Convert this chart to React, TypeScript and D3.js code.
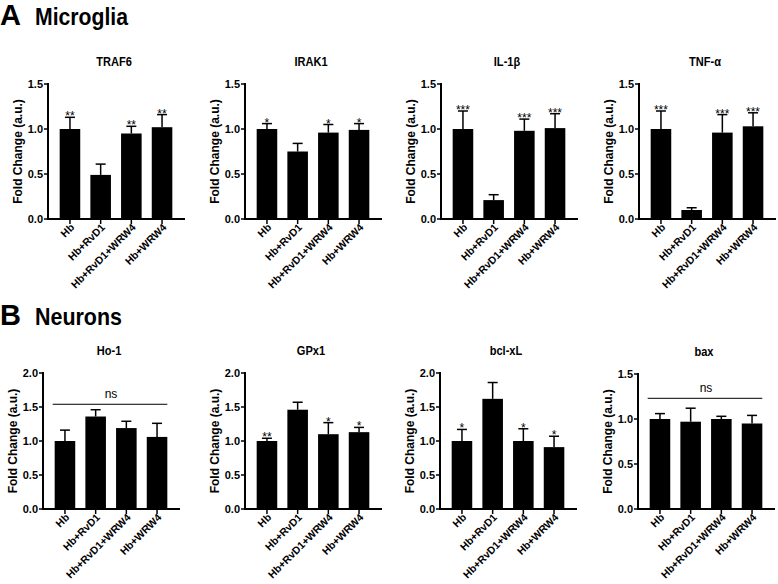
import React from "react";
import * as d3 from "d3";

// ---- Data ----
const groups = ["Hb", "Hb+RvD1", "Hb+RvD1+WRW4", "Hb+WRW4"];

// Panel A: Microglia
const traf6Mean = [1.0, 0.49, 0.95, 1.02];
const traf6Err = [0.13, 0.12, 0.08, 0.14];
const traf6Sig = ["**", "", "**", "**"];

const irak1Mean = [1.0, 0.75, 0.96, 0.99];
const irak1Err = [0.06, 0.09, 0.09, 0.07];
const irak1Sig = ["*", "", "*", "*"];

const il1bMean = [1.0, 0.21, 0.98, 1.01];
const il1bErr = [0.2, 0.06, 0.13, 0.16];
const il1bSig = ["***", "", "***", "***"];

const tnfaMean = [1.0, 0.1, 0.96, 1.03];
const tnfaErr = [0.2, 0.025, 0.2, 0.15];
const tnfaSig = ["***", "", "***", "***"];

// Panel B: Neurons
const ho1Mean = [1.0, 1.36, 1.19, 1.06];
const ho1Err = [0.16, 0.1, 0.1, 0.2];
const ho1Sig = ["", "", "", ""];
const ho1Ns = 1.54;

const gpx1Mean = [1.0, 1.46, 1.1, 1.13];
const gpx1Err = [0.04, 0.11, 0.17, 0.07];
const gpx1Sig = ["**", "", "*", "*"];

const bclxlMean = [1.0, 1.62, 1.0, 0.91];
const bclxlErr = [0.17, 0.24, 0.18, 0.16];
const bclxlSig = ["*", "", "*", "*"];

const baxMean = [1.0, 0.97, 1.0, 0.95];
const baxErr = [0.06, 0.15, 0.03, 0.09];
const baxSig = ["", "", "", ""];
const baxNs = 1.23;

const ticks15 = [0, 0.5, 1.0, 1.5];
const ticks20 = [0, 0.5, 1.0, 1.5, 2.0];

const panelA = [
  { title: "TRAF6", mean: traf6Mean, err: traf6Err, sig: traf6Sig, ticks: ticks15, ns: null },
  { title: "IRAK1", mean: irak1Mean, err: irak1Err, sig: irak1Sig, ticks: ticks15, ns: null },
  { title: "IL-1β", mean: il1bMean, err: il1bErr, sig: il1bSig, ticks: ticks15, ns: null },
  { title: "TNF-α", mean: tnfaMean, err: tnfaErr, sig: tnfaSig, ticks: ticks15, ns: null },
];
const panelB = [
  { title: "Ho-1", mean: ho1Mean, err: ho1Err, sig: ho1Sig, ticks: ticks20, ns: ho1Ns },
  { title: "GPx1", mean: gpx1Mean, err: gpx1Err, sig: gpx1Sig, ticks: ticks20, ns: null },
  { title: "bcl-xL", mean: bclxlMean, err: bclxlErr, sig: bclxlSig, ticks: ticks20, ns: null },
  { title: "bax", mean: baxMean, err: baxErr, sig: baxSig, ticks: ticks15, ns: baxNs },
];

const FONT = "'Liberation Sans', Arial, Helvetica, sans-serif";

type ChartDef = {
  title: string;
  mean: number[];
  err: number[];
  sig: string[];
  ticks: number[];
  ns: number | null;
};

function BarChart({ def, ax, top, bottom }: { def: ChartDef; ax: number; top: number; bottom: number }) {
  const yMax = def.ticks[def.ticks.length - 1];
  const y = d3.scaleLinear().domain([0, yMax]).range([bottom, top]);
  const x = d3
    .scaleBand<string>()
    .domain(groups)
    .range([ax + 4, ax + 132])
    .paddingInner(0.33)
    .paddingOuter(0.25);
  const bw = x.bandwidth();
  const fmt = d3.format(".1f");
  const titleX = ax + 66;
  return (
    <g>
      <text
        x={0}
        y={0}
        transform={`translate(${titleX},${top - 18}) scale(0.82,1)`}
        textAnchor="middle"
        fontFamily={FONT}
        fontWeight="bold"
        fontSize={13.5}
      >
        {def.title}
      </text>
      {/* y label */}
      <text
        transform={`translate(${ax - 30},${(top + bottom) / 2}) rotate(-90)`}
        textAnchor="middle"
        fontFamily={FONT}
        fontWeight="bold"
        fontSize={12}
        dy="0.35em"
      >
        Fold Change (a.u.)
      </text>
      {/* bars */}
      {groups.map((g, i) => {
        const cx = (x(g) as number) + bw / 2;
        const yb = y(def.mean[i]);
        const ye = y(def.mean[i] + def.err[i]);
        return (
          <g key={g}>
            <rect x={x(g)} y={yb} width={bw} height={bottom - yb} fill="#000" />
            <line x1={cx} x2={cx} y1={yb} y2={ye} stroke="#000" strokeWidth={1.5} />
            <line x1={cx - 5} x2={cx + 5} y1={ye} y2={ye} stroke="#000" strokeWidth={1.5} />
            {def.sig[i] && (
              <text x={cx} y={ye + 3} textAnchor="middle" fontFamily={FONT} fontSize={12}>
                {def.sig[i]}
              </text>
            )}
            <line x1={cx} x2={cx} y1={bottom} y2={bottom + 5} stroke="#000" strokeWidth={1.5} />
            <text
              transform={`translate(${cx + 5},${bottom + 9}) rotate(-45)`}
              textAnchor="end"
              fontFamily={FONT}
              fontWeight="bold"
              fontSize={10.5}
            >
              {g}
            </text>
          </g>
        );
      })}
      {/* ns bracket */}
      {def.ns !== null && (
        <g>
          <line
            x1={(x(groups[0]) as number) - 2}
            x2={(x(groups[3]) as number) + bw}
            y1={y(def.ns)}
            y2={y(def.ns)}
            stroke="#000"
            strokeWidth={1}
          />
          <text
            x={((x(groups[0]) as number) + (x(groups[3]) as number) + bw) / 2}
            y={y(def.ns) - 6}
            textAnchor="middle"
            fontFamily={FONT}
            fontSize={12}
          >
            ns
          </text>
        </g>
      )}
      {/* axes */}
      <line x1={ax} x2={ax} y1={top - 1} y2={bottom + 1} stroke="#000" strokeWidth={2} />
      <line x1={ax - 1} x2={ax + 137} y1={bottom} y2={bottom} stroke="#000" strokeWidth={2} />
      {def.ticks.map((t) => (
        <g key={t}>
          <line x1={ax - 4} x2={ax} y1={y(t)} y2={y(t)} stroke="#000" strokeWidth={1.5} />
          <text
            x={ax - 5}
            y={y(t)}
            dy="0.35em"
            textAnchor="end"
            fontFamily={FONT}
            fontWeight="bold"
            fontSize={11}
          >
            {fmt(t)}
          </text>
        </g>
      ))}
    </g>
  );
}

export default function App() {
  const colA = [48, 245, 441, 639];
  const colB = [43, 245, 440, 638];
  const topsB = [373, 373, 373, 374];
  return (
    <div style={{ position: "absolute", left: 0, top: 0 }}>
      <svg width={778} height={584} style={{ display: "block", background: "#fff" }}>
        <text x={0} y={25} fontFamily={FONT} fontWeight="bold" fontSize={29}>
          A
        </text>
        <text
          x={35}
          y={25}
          fontFamily={FONT}
          fontWeight="bold"
          fontSize={24}
          textLength={93}
          lengthAdjust="spacingAndGlyphs"
        >
          Microglia
        </text>
        <text x={0} y={325} fontFamily={FONT} fontWeight="bold" fontSize={29}>
          B
        </text>
        <text
          x={35}
          y={325}
          fontFamily={FONT}
          fontWeight="bold"
          fontSize={24}
          textLength={87}
          lengthAdjust="spacingAndGlyphs"
        >
          Neurons
        </text>
        {panelA.map((def, i) => (
          <BarChart key={def.title} def={def} ax={colA[i]} top={84} bottom={219} />
        ))}
        {panelB.map((def, i) => (
          <BarChart key={def.title} def={def} ax={colB[i]} top={topsB[i]} bottom={509} />
        ))}
      </svg>
    </div>
  );
}
